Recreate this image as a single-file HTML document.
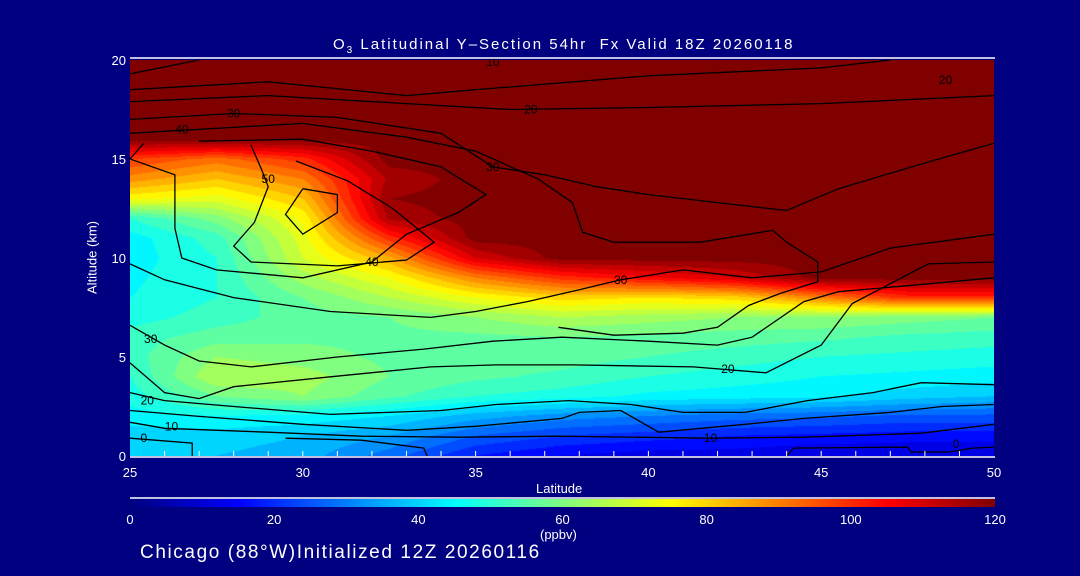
<!DOCTYPE html>
<html><head><meta charset="utf-8">
<style>
html,body{margin:0;padding:0;background:#000080;}
#root{position:relative;width:1080px;height:576px;background:#000080;overflow:hidden;font-family:"Liberation Sans",sans-serif;color:#fff;}
.t{position:absolute;color:#fff;white-space:nowrap;}
</style></head>
<body>
<div id="root">
<div class="t" style="left:333px;top:36px;font-size:15px;letter-spacing:2px;">O<sub style="font-size:10px">3</sub> Latitudinal Y&#8211;Section 54hr&nbsp; Fx Valid 18Z 20260118</div>
<canvas id="plot" width="864" height="396" style="position:absolute;left:130px;top:60px;"></canvas>
<svg id="ov" width="1080" height="576" style="position:absolute;left:0;top:0;"></svg>
<canvas id="cbar" width="865" height="8" style="position:absolute;left:130px;top:499px;"></canvas>
<div class="t" style="left:536px;top:481px;font-size:13px;">Latitude</div>
<div class="t" style="left:52px;top:250px;font-size:13px;transform:rotate(-90deg);transform-origin:center;width:80px;text-align:center;">Altitude (km)</div>
<div class="t" style="left:540px;top:527px;font-size:13px;">(ppbv)</div>
<div class="t" style="left:140px;top:542px;font-size:19px;letter-spacing:1.6px;">Chicago (88°W)Initialized 12Z 20260116</div>
</div>
<script>
// ---- data ----
const lats = [25,27.5,30,32.5,35,37.5,40,42.5,45,47.5,50];
const alts = [0,1,2,3,4,5,6,7,8,9,10,11,12,13,14,15,16,17,18,19,20];
const ozone = [
[38,38,36,28,18,14,12,12,10,10,10],
[40,40,38,34,26,22,20,18,17,16,16],
[44,46,45,42,36,32,30,28,27,25,25],
[48,58,62,55,50,48,45,44,43,40,38],
[50,66,64,58,55,53,50,48,46,45,44],
[52,62,60,57,56,56,54,52,50,49,48],
[52,56,57,57,57,58,57,56,55,53,52],
[48,52,56,58,62,66,64,62,62,60,58],
[46,50,58,66,74,80,78,80,90,100,100],
[45,50,64,74,90,100,105,110,120,120,120],
[44,50,70,85,110,120,120,120,120,120,120],
[44,52,72,100,120,120,120,120,120,120,120],
[50,60,75,115,120,120,120,120,120,120,120],
[75,72,82,118,120,120,120,120,120,120,120],
[88,82,90,115,120,120,120,120,120,120,120],
[98,92,100,120,120,120,120,120,120,120,120],
[120,120,120,120,120,120,120,120,120,120,120],
[120,120,120,120,120,120,120,120,120,120,120],
[120,120,120,120,120,120,120,120,120,120,120],
[120,120,120,120,120,120,120,120,120,120,120],
[120,120,120,120,120,120,120,120,120,120,120]];
const xTicks = [25,30,35,40,45,50];
const yTicks = [0,5,10,15,20];
const cbTicks = [0,20,40,60,80,100,120];
const contourA = [[25,19.3],[27,20]];
const contourB = [[25,18.5],[29,18.9],[33,18.2],[35,18.5],[40,19.2],[45,19.6],[47,20]];
const contourC = [[25,17.9],[29,18.2],[33,17.8],[36,17.5],[40,17.6],[45,17.8],[50,18.2]];
const contourD = [[25,17.0],[28,17.3],[31,17.1],[34,16.3],[35.5,14.6],[37,14.2],[38.5,13.6],[40,13.2],[42,12.8],[44,12.4],[45.5,13.5],[48,14.8],[50,15.8]];
const contourE = [[25,16.3],[27,16.5],[30,16.8],[33,16.1],[35,15.4],[36.8,14.0],[37.8,12.8],[38.1,11.3],[39,10.8],[41.5,10.8],[43.6,11.4],[44,10.8],[44.9,9.8],[44.9,8.8],[43.8,8.2],[42.9,7.6],[42,6.5],[41,6.2],[39,6.1],[37.4,6.5]];
const contourF = [[25.4,15.8],[25,15],[26.3,14.2],[26.3,11.5],[26.5,10],[27.5,9.4],[30,9.0],[32,9.8],[33,11.2],[34.5,12.3],[35.3,13.2],[34,14.6],[32,15.4],[30,16],[27,15.9]];
const contourG = [[28.5,15.7],[28.8,14.5],[29,13.6],[28.6,11.8],[28,10.6],[28.5,9.8],[31,9.6],[33,9.9],[33.8,10.8],[32.6,12.5],[31.3,13.9],[29.8,14.9]];
const contourH = [[30,13.5],[29.5,12.2],[30,11.2],[31,12.3],[31,13.2],[30,13.5]];
const contourI = [[25,9.7],[26,8.9],[28,8.0],[30.8,7.3],[33.7,7.0],[35,7.3],[36.5,7.8],[38,8.4],[39.2,8.9],[41,9.4],[43,9.0],[45,9.3],[47,10.5],[50,11.2]];
const contourJ = [[25,6.6],[26,5.6],[27,4.8],[28.5,4.5],[31,5.0],[33.5,5.4],[35.5,5.8],[37.5,6.0],[40,5.8],[42,5.6],[43,6.0],[44.5,7.8],[45.5,8.3],[47.5,8.6],[50,9.0]];
const contourK = [[25,4.7],[26,3.2],[27,2.9],[28,3.5],[30.8,4.0],[33.7,4.5],[35.6,4.6],[37.8,4.6],[41.3,4.5],[43.4,4.2],[45,5.6],[45.9,7.7],[48.1,9.7],[50,9.8]];
const contourL = [[25,3.2],[26,2.8],[28,2.5],[30.8,2.1],[34,2.3],[35.6,2.6],[37.7,2.8],[39.5,2.6],[41,2.2],[42.8,2.2],[44.6,2.8],[46.5,3.2],[47.9,3.7],[50,3.6]];
const contourM = [[25,2.3],[27,2.0],[30,1.6],[33,1.3],[35,1.5],[37.5,1.9],[38,2.2],[39.2,2.3],[40.3,1.2],[42.8,1.6],[44.5,1.9],[47,2.2],[48.5,2.5],[50,2.6]];
const contourN = [[25,1.7],[26,1.4],[29,1.2],[31.7,1.0],[34.5,0.95],[37.4,1.0],[41.8,0.9],[44.5,0.95],[47.9,1.15],[50,1.6]];
const contourO = [[25,0.9],[26.8,0.65],[26.8,0]];
const contourP = [[44,0],[44.2,0.4],[47.5,0.45],[47.6,0.2],[48.7,0.2],[49.4,0.4],[50,0.45]];
const contourQ = [[29.5,0.9],[31.7,0.8],[33.5,0.4],[33.6,0]];
const labelText = ["10","20","20","30","40","50","30","40","30","30","20","20","10","0","10","0"];
const labelLat = [35.5,36.6,48.6,28,26.5,29,35.5,32,39.2,25.6,42.3,25.5,26.2,25.4,41.8,48.9];
const labelAlt = [19.9,17.5,19.0,17.3,16.5,14.0,14.6,9.8,8.9,5.9,4.4,2.8,1.5,0.9,0.9,0.6];

// ---- scales ----
const X0=130, X1=994, Y0=456, Y1=60;
const xS = lat => X0 + (lat-25)/(25)*(X1-X0);
const yS = a => Y0 - a/20*(Y0-Y1);
const stops=[[0,[0,0,128]],[15,[0,0,255]],[45,[0,255,255]],[60,[128,255,128]],[75,[255,255,0]],[105,[255,0,0]],[120,[128,0,0]]];
function cmap(v){
  v=Math.max(0,Math.min(120,v));
  for(let i=1;i<stops.length;i++){ if(v<=stops[i][0]){const a=stops[i-1],b=stops[i];const t=(v-a[0])/(b[0]-a[0]);return a[1].map((c,k)=>Math.round(c+(b[1][k]-c)*t));}}
  return stops[stops.length-1][1];
}
function val(lat,alt){
  let fi=(lat-lats[0])/(lats[1]-lats[0]); let fj=(alt-alts[0])/(alts[1]-alts[0]);
  fi=Math.max(0,Math.min(lats.length-1.0001,fi)); fj=Math.max(0,Math.min(alts.length-1.0001,fj));
  const i=Math.floor(fi), j=Math.floor(fj), u=fi-i, w=fj-j;
  return ozone[j][i]*(1-u)*(1-w)+ozone[j][i+1]*u*(1-w)+ozone[j+1][i]*(1-u)*w+ozone[j+1][i+1]*u*w;
}
// heatmap
const cv=document.getElementById('plot'), ctx=cv.getContext('2d');
const img=ctx.createImageData(864,396);
for(let py=0;py<396;py++){ const alt=(395-py)/395*20;
  for(let px=0;px<864;px++){ const lat=25+px/863*25;
    let v=val(lat,alt); v=Math.round(v/4)*4; const c=cmap(v); const k=(py*864+px)*4;
    img.data[k]=c[0];img.data[k+1]=c[1];img.data[k+2]=c[2];img.data[k+3]=255; } }
ctx.putImageData(img,0,0);
// colorbar
const cb=document.getElementById('cbar').getContext('2d');
for(let px=0;px<865;px++){const c=cmap(px/864*120);cb.fillStyle='rgb('+c.join(',')+')';cb.fillRect(px,0,1,8);}
// overlay
const NS='http://www.w3.org/2000/svg', ov=document.getElementById('ov');
function mk(tag,attrs){const e=document.createElementNS(NS,tag);for(const k in attrs)e.setAttribute(k,attrs[k]);ov.appendChild(e);return e;}
const contours=[contourA,contourB,contourC,contourD,contourE,contourF,contourG,contourH,contourI,contourJ,contourK,contourL,contourM,contourN,contourO,contourP,contourQ];
contours.forEach((c,i)=>{
  const p=mk('polyline',{points:c.map(q=>xS(q[0]).toFixed(1)+','+yS(q[1]).toFixed(1)).join(' '),fill:'none',stroke:'#000','stroke-width':1.3});
  
  
});
labelText.forEach((t,i)=>{
  const e=mk('text',{x:xS(labelLat[i]),y:yS(labelAlt[i])+4,'font-size':12,fill:'#000','text-anchor':'middle','font-family':'Liberation Sans, sans-serif'});
  e.textContent=t;
  
  
});
// axes
let ax=mk('line',{x1:X0,y1:58,x2:X1+1,y2:58,stroke:'#fff','stroke-width':1.5});


ax=mk('line',{x1:X0,y1:Y0+1,x2:X1+1,y2:Y0+1,stroke:'#fff','stroke-width':1.5});


ax=mk('line',{x1:X0,y1:498,x2:X1+1,y2:498,stroke:'#fff','stroke-width':1.5});


for(let l=26;l<50;l++){const tk=mk('line',{x1:xS(l),y1:Y0,x2:xS(l),y2:Y0-5,stroke:'#fff','stroke-width':1});
  
  }
xTicks.forEach(l=>{const e=mk('text',{x:xS(l),y:477,'font-size':13,fill:'#fff','text-anchor':'middle','font-family':'Liberation Sans, sans-serif'});e.textContent=l;
  
  });
yTicks.forEach(a=>{const e=mk('text',{x:126,y:yS(a)+5,'font-size':13,fill:'#fff','text-anchor':'end','font-family':'Liberation Sans, sans-serif'});e.textContent=a;
  
  });
cbTicks.forEach(v=>{const e=mk('text',{x:X0+v/120*865,y:524,'font-size':13,fill:'#fff','text-anchor':'middle','font-family':'Liberation Sans, sans-serif'});e.textContent=v;
  
  });
</script>
</body></html>
